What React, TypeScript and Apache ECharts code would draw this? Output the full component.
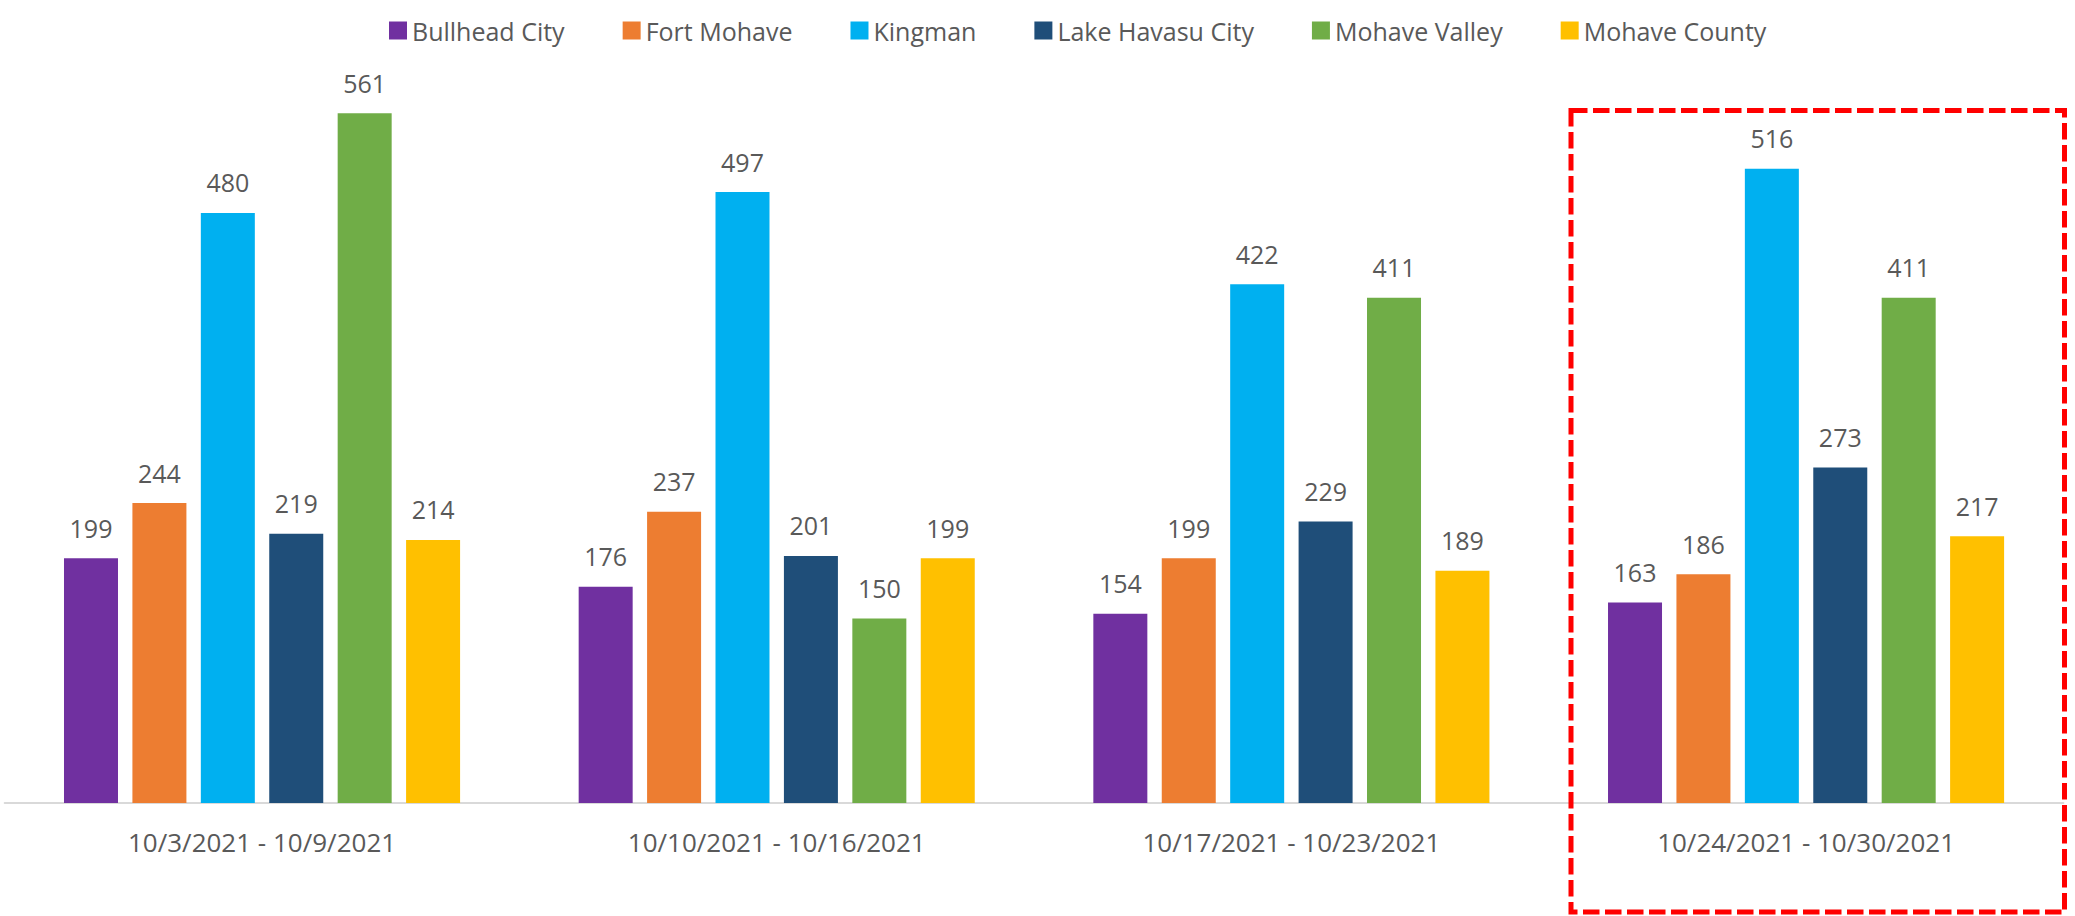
import React, { useEffect, useRef } from "react";
import * as echarts from "echarts";

const categories = [
  "10/3/2021 - 10/9/2021",
  "10/10/2021 - 10/16/2021",
  "10/17/2021 - 10/23/2021",
  "10/24/2021 - 10/30/2021",
];
const seriesNames = [
  "Bullhead City",
  "Fort Mohave",
  "Kingman",
  "Lake Havasu City",
  "Mohave Valley",
  "Mohave County",
];
const bullheadCity = [199, 176, 154, 163];
const fortMohave = [244, 237, 199, 186];
const kingman = [480, 497, 422, 516];
const lakeHavasuCity = [219, 201, 229, 273];
const mohaveValley = [561, 150, 411, 411];
const mohaveCounty = [214, 199, 189, 217];
const seriesValues = [bullheadCity, fortMohave, kingman, lakeHavasuCity, mohaveValley, mohaveCounty];
const colors = ["#7030A0", "#ED7D31", "#00B0F0", "#1F4E79", "#70AD47", "#FFC000"];

const FONT = "'Open Sans', sans-serif";
const TEXT = "#595959";

export default function App() {
  const ref = useRef<HTMLDivElement>(null);
  useEffect(() => {
    if (!ref.current) return;
    const chart = echarts.init(ref.current, null, { renderer: "svg" });
    chart.setOption({
      animation: false,
      backgroundColor: "#ffffff",
      textStyle: { fontFamily: FONT },
      legend: {
        data: seriesNames,
        left: 384,
        top: 13,
        icon: "rect",
        itemWidth: 18,
        itemHeight: 18,
        itemGap: 58,
        textStyle: { fontFamily: FONT, fontSize: 25, color: TEXT },
      },
      grid: { left: 4.7, right: 11.6, top: 65.4, bottom: 113, containLabel: false },
      xAxis: {
        type: "category",
        data: categories,
        axisLine: { lineStyle: { color: "#D9D9D9", width: 2 } },
        axisTick: { show: false },
        axisLabel: { fontFamily: FONT, fontSize: 26, color: TEXT, margin: 26 },
      },
      yAxis: {
        type: "value",
        min: 0,
        max: 600,
        show: false,
        splitLine: { show: false },
      },
      series: seriesNames.map((name, i) => ({
        name,
        type: "bar",
        data: seriesValues[i],
        barWidth: 54,
        barGap: "26.7%",
        itemStyle: { color: colors[i] },
        label: {
          show: true,
          position: "top",
          distance: 18,
          fontFamily: FONT,
          fontSize: 25,
          color: TEXT,
        },
      })),
      graphic: [
        {
          type: "rect",
          shape: { x: 1571, y: 110.5, width: 493.5, height: 801.5 },
          style: { fill: "none", stroke: "#FF0000", lineWidth: 5, lineDash: [16.5, 5.5] },
          z: 100,
        },
      ],
    });
    return () => chart.dispose();
  }, []);
  return (
    <div
      ref={ref}
      style={{ position: "fixed", left: 0, top: 0, width: 2075, height: 916 }}
    />
  );
}
